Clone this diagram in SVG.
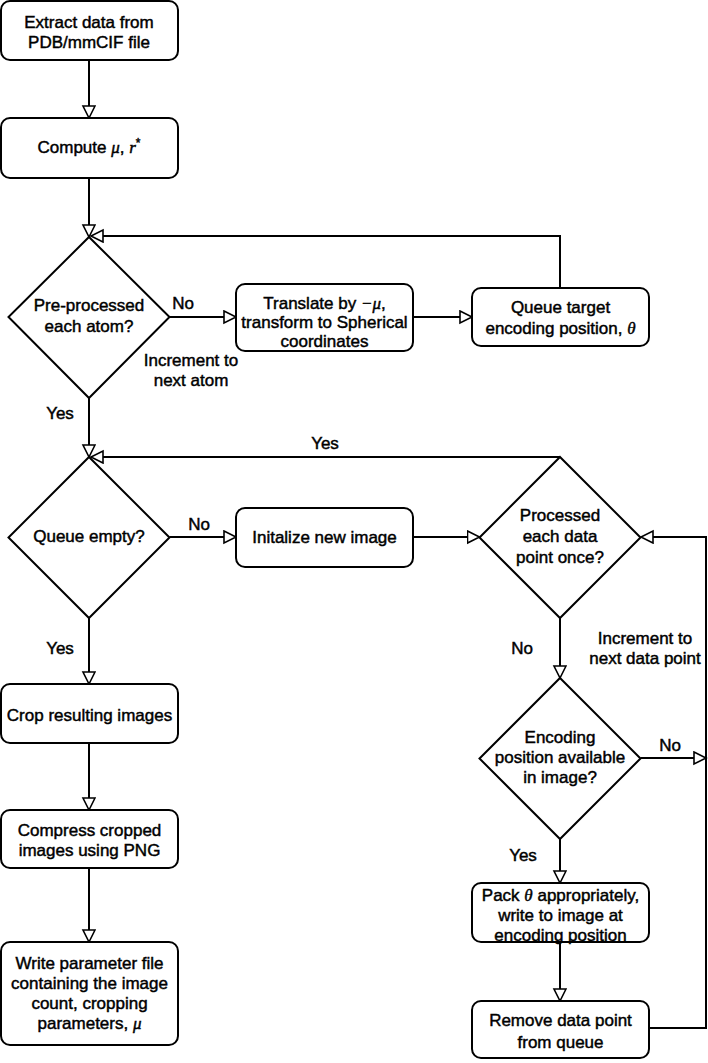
<svg xmlns="http://www.w3.org/2000/svg" width="708" height="1063" viewBox="0 0 708 1063">
<style>
.n{fill:#fff;stroke:#000;stroke-width:2}
.t{font-family:"Liberation Sans",Arial,sans-serif;font-size:17px;fill:#000;text-anchor:middle;stroke:#000;stroke-width:0.45}
.l{font-family:"Liberation Sans",Arial,sans-serif;font-size:17px;fill:#000;text-anchor:middle;stroke:#000;stroke-width:0.45}
.m{font-family:"Liberation Serif","Times New Roman",serif;font-style:italic}
.c{fill:none;stroke:#000;stroke-width:2}
</style>
<defs>
<marker id="a" markerUnits="userSpaceOnUse" markerWidth="16" markerHeight="16" refX="13" refY="7" orient="auto">
<path d="M1,1 L13,7 L1,13 Z" fill="#fff" stroke="#000" stroke-width="1.6"/>
</marker>
</defs>
<rect width="708" height="1063" fill="#fff"/>
<g id="connectors">
<path class="c" d="M89,60 V118" marker-end="url(#a)"/>
<path class="c" d="M89,178 V237" marker-end="url(#a)"/>
<path class="c" d="M169.5,317 H236" marker-end="url(#a)"/>
<path class="c" d="M413,317 H472" marker-end="url(#a)"/>
<path class="c" d="M560,288 V236 H91" marker-end="url(#a)"/>
<path class="c" d="M89,398 V457" marker-end="url(#a)"/>
<path class="c" d="M169.5,537 H236" marker-end="url(#a)"/>
<path class="c" d="M413,537 H479.5" marker-end="url(#a)"/>
<path class="c" d="M560,457 H91" marker-end="url(#a)"/>
<path class="c" d="M560,618 V678" marker-end="url(#a)"/>
<path class="c" d="M640.5,758 H706" marker-end="url(#a)"/>
<path class="c" d="M560,839 V883" marker-end="url(#a)"/>
<path class="c" d="M560,942 V1001" marker-end="url(#a)"/>
<path class="c" d="M649,1028 H706 V537 H641" marker-end="url(#a)"/>
<path class="c" d="M89,618 V684" marker-end="url(#a)"/>
<path class="c" d="M89,743 V810" marker-end="url(#a)"/>
<path class="c" d="M89,868 V942" marker-end="url(#a)"/>
</g>
<g id="labels">
<text class="l" x="183" y="309">No</text>
<text class="l" x="191" y="366">Increment to</text>
<text class="l" x="191" y="386">next atom</text>
<text class="l" x="60" y="419">Yes</text>
<text class="l" x="325" y="449">Yes</text>
<text class="l" x="199" y="530">No</text>
<text class="l" x="60" y="654">Yes</text>
<text class="l" x="522" y="654">No</text>
<text class="l" x="645" y="644">Increment to</text>
<text class="l" x="645" y="664">next data point</text>
<text class="l" x="670" y="751">No</text>
<text class="l" x="523" y="861">Yes</text>
</g>
<g id="extract">
<rect class="n" x="1" y="1" width="177" height="59" rx="9"/>
<text class="t" x="89" y="28">Extract data from</text>
<text class="t" x="89" y="48">PDB/mmCIF file</text>
</g>
<g id="compute">
<rect class="n" x="1" y="118" width="177" height="60" rx="9"/>
<text class="t" x="89" y="153">Compute <tspan class="m">μ</tspan>, <tspan class="m">r</tspan><tspan dy="-6" font-size="12">*</tspan></text>
</g>
<g id="preprocessed">
<polygon class="n" points="89,237 169.5,317 89,398 8.5,317"/>
<text class="t" x="89" y="311">Pre-processed</text>
<text class="t" x="89" y="332">each atom?</text>
</g>
<g id="translate">
<rect class="n" x="236" y="284" width="177" height="67" rx="9"/>
<text class="t" x="324.5" y="309">Translate by <tspan class="m">−μ</tspan>,</text>
<text class="t" x="324.5" y="328">transform to Spherical</text>
<text class="t" x="324.5" y="347">coordinates</text>
</g>
<g id="queue-target">
<rect class="n" x="472" y="288" width="177" height="58" rx="9"/>
<text class="t" x="560.5" y="313">Queue target</text>
<text class="t" x="560.5" y="334">encoding position, <tspan class="m">θ</tspan></text>
</g>
<g id="queue-empty">
<polygon class="n" points="89,457 169.5,537.5 89,618 8.5,537.5"/>
<text class="t" x="89" y="542">Queue empty?</text>
</g>
<g id="init">
<rect class="n" x="236" y="508" width="177" height="59" rx="9"/>
<text class="t" x="324.5" y="543">Initalize new image</text>
</g>
<g id="processed">
<polygon class="n" points="560,457 640.5,537.5 560,618 479.5,537.5"/>
<text class="t" x="560" y="521">Processed</text>
<text class="t" x="560" y="542">each data</text>
<text class="t" x="560" y="563">point once?</text>
</g>
<g id="encoding">
<polygon class="n" points="560,678 640.5,758.5 560,839 479.5,758.5"/>
<text class="t" x="560" y="743">Encoding</text>
<text class="t" x="560" y="763">position available</text>
<text class="t" x="560" y="783">in image?</text>
</g>
<g id="pack">
<rect class="n" x="472" y="883" width="177" height="59" rx="9"/>
<text class="t" x="560.5" y="901">Pack <tspan class="m">θ</tspan> appropriately,</text>
<text class="t" x="560.5" y="921">write to image at</text>
<text class="t" x="560.5" y="941">encoding position</text>
</g>
<g id="remove">
<rect class="n" x="472" y="1001" width="177" height="57" rx="9"/>
<text class="t" x="560.5" y="1026">Remove data point</text>
<text class="t" x="560.5" y="1048">from queue</text>
</g>
<g id="crop">
<rect class="n" x="1" y="684" width="177" height="59" rx="9"/>
<text class="t" x="89.5" y="721">Crop resulting images</text>
</g>
<g id="compress">
<rect class="n" x="1" y="810" width="177" height="58" rx="9"/>
<text class="t" x="89.5" y="836">Compress cropped</text>
<text class="t" x="89.5" y="856">images using PNG</text>
</g>
<g id="write">
<rect class="n" x="1" y="942" width="177" height="103" rx="9"/>
<text class="t" x="89.5" y="969">Write parameter file</text>
<text class="t" x="89.5" y="989">containing the image</text>
<text class="t" x="89.5" y="1009">count, cropping</text>
<text class="t" x="89.5" y="1029">parameters, <tspan class="m">μ</tspan></text>
</g>
</svg>
